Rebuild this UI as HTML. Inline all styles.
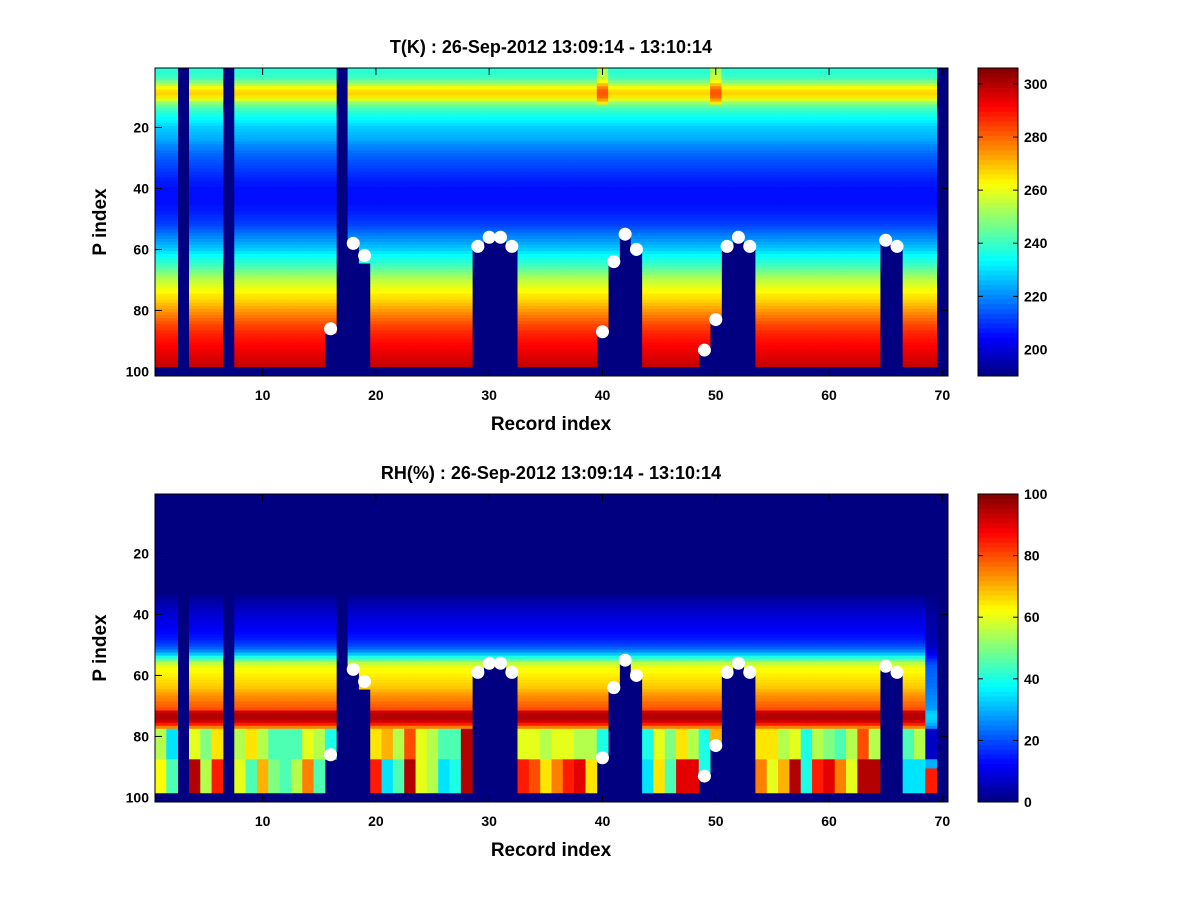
<!DOCTYPE html>
<html><head><meta charset="utf-8"><style>
body{margin:0;background:#fff;}
svg{display:block;font-family:"Liberation Sans",sans-serif;}
.t{font-weight:bold;font-size:14px;}
</style></head><body>
<svg id="fig" width="1200" height="900" xmlns="http://www.w3.org/2000/svg">
<rect width="1200" height="900" fill="#fff"/>
</svg>
<script>
// ---- data ----
const recordCount = 70;
const rowCount = 101;
const tProfile = [238,238,240,242,248,255,262,266,267,265,258,250,245,241,238,236,234,232,230,228,
227,226,225,224,222,220,219,217,216,215,214,213,212,211,210,209,208,207,207,206,
206,206,206,206,206,207,207,208,209,210,211,212,214,216,218,220,222,224,226,228,
231,234,236,238,240,243,246,249,252,255,257,259,261,263,265,266,268,270,272,274,
276,278,280,282,284,285,287,288,289,290,291,292,293,294,295,296,297,298,299,300,300];
const rhProfile = [0,0,0,0,0,0,0,0,0,0,0,0,0,0,0,0,0,0,0,0,0,0,0,0,0,0,0,0,0,0,0,0,0,
2,3,4,5,6,7,8,9,10,10,11,12,13,14,15,17,19,22,26,32,40,48,56,60,62,63,64,
65,66,67,68,70,72,74,75,77,78,80,92,95,95,92,85,75];
const rhLowA = [55,35,0,60,50,65,0,55,65,55,45,45,45,60,55,40,0,0,0,65,70,55,80,60,55,45,45,95,0,0,
0,0,60,60,55,60,60,55,55,40,0,0,0,40,60,50,65,55,40,70,0,0,0,65,65,55,60,40,55,50,
45,55,80,55,0,0,45,55,20,0];
const rhLowB = [62,45,0,95,55,85,0,60,45,70,50,45,55,75,45,40,0,0,0,85,35,45,95,60,55,35,40,95,0,0,
0,0,85,80,65,75,85,90,65,40,0,0,0,35,65,45,90,90,40,70,0,0,0,75,60,70,95,40,85,90,
75,60,95,95,0,0,35,35,85,0];
const rhScale = [1,1,1,1,1,1,1,1,1,1,1,1,1,1,1,1,1,1,1,1,1,1,1,1,1,1,1,1,1,1,1,1,1,1,1,1,1,1,1,1,
1,1,1,1,1,1,1,1,1,1,1,1,1,1,1,1,1,1,1,1,1,1,1,1,1,1,1,1,0.35,1];
const tBand = [0,0,0,0,0,0,0,0,0,0,0,0,0,0,0,0,0,0,0,0,0,0,0,0,0,0,0,0,0,0,0,0,0,0,0,0,0,0,0,15,
0,0,0,0,0,0,0,0,0,15,0,0,0,0,0,0,0,0,0,0,0,0,0,0,0,0,0,0,0,0];
const dataEnd = [98,98,0,98,98,98,0,98,98,98,98,98,98,98,98,87,0,58,64,98,98,98,98,98,98,98,98,98,59,56,
56,59,98,98,98,98,98,98,98,87,64,55,60,98,98,98,98,98,93,83,59,56,59,98,98,98,98,98,98,98,
98,98,98,98,57,59,98,98,98,0];
const dotCols = [16,18,19,29,30,31,32,40,41,42,43,49,50,51,52,53,65,66];
const dotRows = [86,58,62,59,56,56,59,87,64,55,60,93,83,59,56,59,57,59];
const xTicks = [10,20,30,40,50,60,70];
const yTicks = [20,40,60,80,100];
const tCbTicks = [200,220,240,260,280,300];
const rhCbTicks = [0,20,40,60,80,100];

// ---- helpers ----
const NS = "http://www.w3.org/2000/svg";
const svg = document.getElementById('fig');
function jet(t){t=Math.max(0,Math.min(1,t));
 const c=v=>Math.round(255*Math.max(0,Math.min(1,v)));
 return `rgb(${c(1.5-Math.abs(4*t-3))},${c(1.5-Math.abs(4*t-2))},${c(1.5-Math.abs(4*t-1))})`;}
function mk(tag,attrs,parent){const e=document.createElementNS(NS,tag);for(const k in attrs)e.setAttribute(k,attrs[k]);(parent||svg).appendChild(e);return e;}
const X0=155,X1=948;
const xs=v=>X0+(v-0.5)*(X1-X0)/recordCount;
const cw=(X1-X0)/recordCount;

function panel(top,title,vmin,vmax,valueFn,cbTicks,prefix){
 const Y1=top+308;
 const ys=v=>top+(v-0.5)*308/rowCount;
 const rh=308/rowCount;
 const g=mk('g',{});
 
 
 const bg=mk('rect',{x:X0,y:top,width:X1-X0,height:308,fill:jet(0)},g);
 
 
 for(let c=1;c<=recordCount;c++){
  for(let r=1;r<=dataEnd[c-1];r++){
   const v=valueFn(c,r);
   const cell=mk('rect',{x:xs(c-0.5).toFixed(2),y:ys(r-0.5).toFixed(2),width:(cw+0.4).toFixed(2),height:(rh+0.4).toFixed(2),fill:jet((v-vmin)/(vmax-vmin))},g);
   
   
  }
 }
 for(let i=0;i<dotCols.length;i++){
  const d=mk('circle',{cx:xs(dotCols[i]),cy:ys(dotRows[i]),r:6.5,fill:'#fff'});
  
  
 }
 const fr=mk('rect',{x:X0,y:top,width:X1-X0,height:308,fill:'none',stroke:'#000','stroke-width':1});
 
 
 xTicks.forEach(t=>{const x=xs(t);
  mk('line',{x1:x,x2:x,y1:Y1,y2:Y1-7,stroke:'#000'});mk('line',{x1:x,x2:x,y1:top,y2:top+7,stroke:'#000'});
  const tx=mk('text',{x:x,y:Y1+24,'text-anchor':'middle',class:'t'});tx.textContent=t;
  });
 yTicks.forEach(t=>{const y=ys(t);
  mk('line',{x1:X0,x2:X0+7,y1:y,y2:y,stroke:'#000'});mk('line',{x1:X1,x2:X1-7,y1:y,y2:y,stroke:'#000'});
  const tx=mk('text',{x:X0-6,y:y+5,'text-anchor':'end',class:'t'});tx.textContent=t;
  });
 const tt=mk('text',{x:551,y:top-15,'text-anchor':'middle',class:'t',style:'font-size:18px'});tt.textContent=title;
 
 const xl=mk('text',{x:551,y:Y1+54,'text-anchor':'middle',class:'t',style:'font-size:19px'});xl.textContent='Record index';
 
 const yl=mk('text',{x:0,y:0,'text-anchor':'middle',class:'t',style:'font-size:19px',transform:`translate(106,${top+154}) rotate(-90)`});yl.textContent='P index';
 
 // colorbar
 const CX=978,CW=40;
 const cb=mk('g',{});
 
 for(let i=0;i<64;i++){
  mk('rect',{x:CX,y:(Y1-(i+1)*308/64).toFixed(2),width:CW,height:(308/64+0.5).toFixed(2),fill:jet((i+0.5)/64)},cb);
 }
 mk('rect',{x:CX,y:top,width:CW,height:308,fill:'none',stroke:'#000'},cb);
 cbTicks.forEach(t=>{const y=Y1-(t-vmin)/(vmax-vmin)*308;
  mk('line',{x1:CX,x2:CX+5,y1:y,y2:y,stroke:'#000'},cb);mk('line',{x1:CX+CW,x2:CX+CW-5,y1:y,y2:y,stroke:'#000'},cb);
  const tx=mk('text',{x:CX+CW+6,y:y+5,class:'t'},cb);tx.textContent=t;
  });
}
panel(68,'T(K) : 26-Sep-2012 13:09:14 - 13:10:14',190,306,
 (c,r)=>tProfile[r-1]+(r<=12?tBand[c-1]:0),tCbTicks,'temperature');
panel(494,'RH(%) : 26-Sep-2012 13:09:14 - 13:10:14',0,100,
 (c,r)=>{let v; if(r<=77)v=rhProfile[r-1]; else if(r<=87)v=rhLowA[c-1]; else v=rhLowB[c-1];
   if(rhScale[c-1]!==1 && r<=90) v=v*rhScale[c-1]; return v;},rhCbTicks,'humidity');
</script>
</body></html>
